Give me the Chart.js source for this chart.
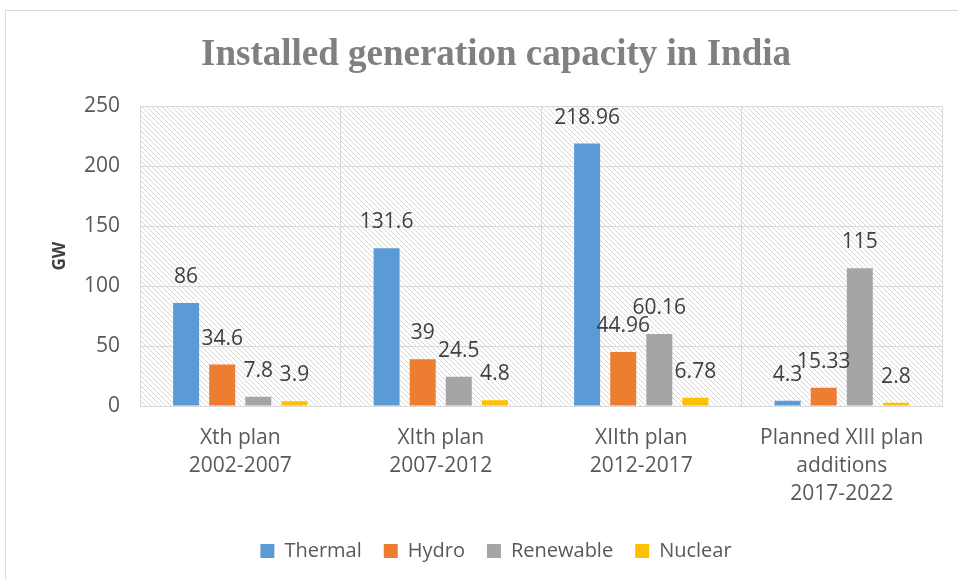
<!DOCTYPE html>
<html>
<head>
<meta charset="utf-8">
<script src="https://cdn.jsdelivr.net/npm/chart.js@4/dist/chart.umd.min.js"></script>
<style>
html,body{margin:0;padding:0;background:#fff;}
#wrap{width:958px;height:579px;position:relative;}
</style>
</head>
<body>
<div id="wrap"><canvas id="c" width="958" height="579"></canvas></div>
<script>
const categories = [
  ["Xth plan", "2002-2007"],
  ["XIth plan", "2007-2012"],
  ["XIIth plan", "2012-2017"],
  ["Planned XIII plan", "additions", "2017-2022"]
];
const thermal = [86, 131.6, 218.96, 4.3];
const hydro = [34.6, 39, 44.96, 15.33];
const renewable = [7.8, 24.5, 60.16, 115];
const nuclear = [3.9, 4.8, 6.78, 2.8];
const seriesNames = ["Thermal", "Hydro", "Renewable", "Nuclear"];
const yTicks = [0, 50, 100, 150, 200, 250];

const colors = ["#5B9BD5", "#ED7D31", "#A5A5A5", "#FFC000"];
const FONT = "'Open Sans', 'Liberation Sans', sans-serif";

function makePattern() {
  const p = document.createElement('canvas');
  p.width = 5; p.height = 5;
  const g = p.getContext('2d');
  g.fillStyle = '#ffffff';
  g.fillRect(0, 0, 5, 5);
  g.strokeStyle = '#d6d6d6';
  g.lineWidth = 1;
  g.beginPath();
  g.moveTo(-1, -1); g.lineTo(6, 6);
  g.moveTo(-6, -1); g.lineTo(1, 6);
  g.moveTo(4, -1); g.lineTo(11, 6);
  g.stroke();
  return p;
}

const bgPlugin = {
  id: 'bg',
  beforeDraw(chart) {
    const ctx = chart.ctx;
    const a = chart.chartArea;
    ctx.save();
    ctx.fillStyle = '#fff';
    ctx.fillRect(0, 0, chart.width, chart.height);
    ctx.strokeStyle = '#d9d9d9';
    ctx.lineWidth = 1;
    ctx.strokeRect(5.5, 10.5, 1200, 1200);
    const pat = ctx.createPattern(makePattern(), 'repeat');
    ctx.fillStyle = pat;
    ctx.fillRect(a.left, a.top, a.right - a.left, a.bottom - a.top);
    ctx.restore();
  }
};

const labelPlugin = {
  id: 'vlabels',
  afterDatasetsDraw(chart) {
    const ctx = chart.ctx;
    ctx.save();
    ctx.font = "21px " + FONT;
    ctx.fillStyle = '#404040';
    ctx.textAlign = 'center';
    ctx.textBaseline = 'middle';
    chart.data.datasets.forEach((ds, i) => {
      const meta = chart.getDatasetMeta(i);
      meta.data.forEach((bar, j) => {
        ctx.fillText(String(ds.data[j]), bar.x, bar.y - 26);
      });
    });
    ctx.restore();
  }
};

new Chart(document.getElementById('c'), {
  type: 'bar',
  data: {
    labels: categories,
    datasets: [thermal, hydro, renewable, nuclear].map((d, i) => ({
      label: seriesNames[i],
      data: d,
      backgroundColor: colors[i],
      categoryPercentage: 0.72,
      barPercentage: 0.72
    }))
  },
  options: {
    responsive: false,
    animation: false,
    layout: { padding: { left: 50, right: 16, top: 33, bottom: 8 } },
    plugins: {
      title: {
        display: true,
        text: 'Installed generation capacity in India',
        color: '#808080',
        font: { family: "'Liberation Serif', 'DejaVu Serif', serif", size: 37, weight: 'bold' },
        padding: { top: 0, bottom: 29 }
      },
      legend: {
        position: 'bottom',
        labels: {
          color: '#595959',
          font: { family: FONT, size: 20 },
          boxWidth: 14, boxHeight: 14,
          padding: 22
        }
      },
      tooltip: { enabled: false }
    },
    scales: {
      x: {
        grid: { color: '#d9d9d9', offset: true, drawTicks: false },
        border: { color: '#d9d9d9' },
        ticks: { color: '#595959', font: { family: FONT, size: 21, lineHeight: 1.33 }, padding: 18, maxRotation: 0 },
        afterFit(s) { s.height = 113; }
      },
      y: {
        min: 0, max: 250,
        afterBuildTicks(s) { s.ticks = yTicks.map(v => ({ value: v })); },
        grid: { color: '#d9d9d9', drawTicks: false },
        border: { display: false },
        ticks: { color: '#595959', font: { family: FONT, size: 21 }, padding: 20 },
        title: { display: true, text: 'GW', color: '#404040', font: { family: FONT, size: 17, weight: 'bold' }, padding: 0 },
        afterFit(s) { s.width = 90; }
      }
    }
  },
  plugins: [bgPlugin, labelPlugin]
});
</script>
</body>
</html>
